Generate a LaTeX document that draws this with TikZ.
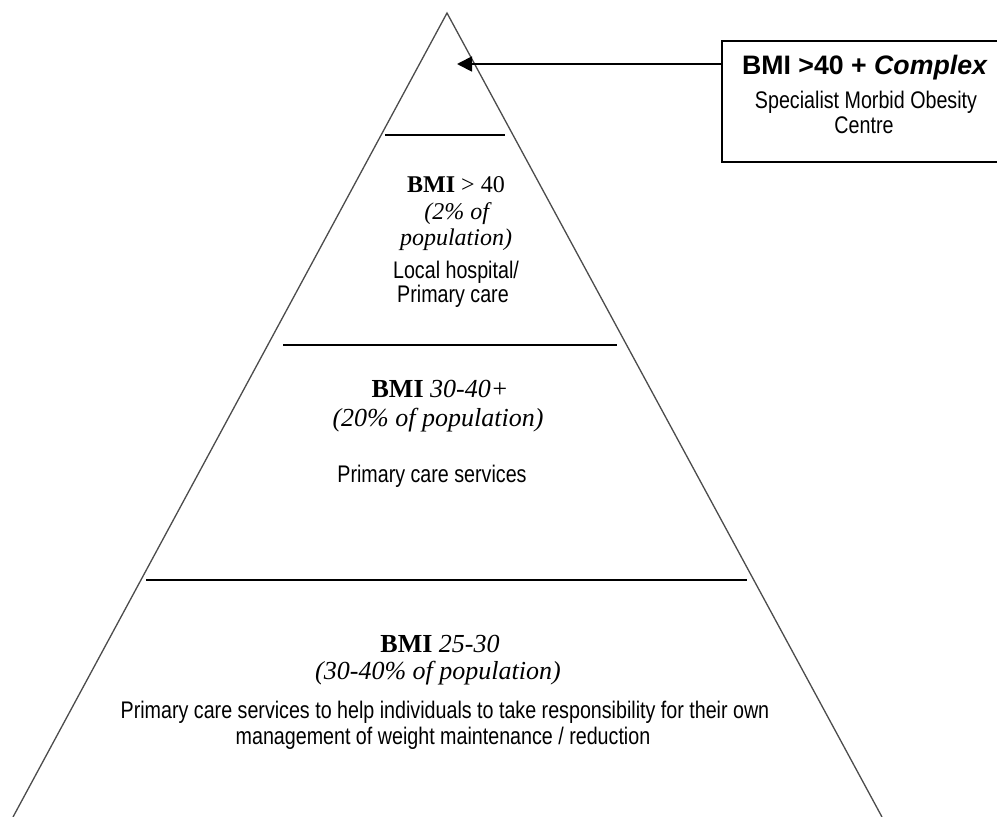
\documentclass[tikz,border=0pt]{standalone}
\usepackage{fontspec}
\setmainfont{Liberation Serif}
\newfontfamily\narrowf[FakeStretch=0.82]{Liberation Sans}
\newfontfamily\arialf{Liberation Sans}
\usetikzlibrary{arrows.meta}
\begin{document}
\begin{tikzpicture}[x=1pt,y=-1pt,
  side/.style={draw=black!70, line width=1.3pt},
  divider/.style={draw=black, line width=1.6pt},
  txt/.style={anchor=base, inner sep=0pt, outer sep=0pt},
  serifbig/.style={txt, font=\fontsize{26}{26}\selectfont},
  serifsmall/.style={txt, font=\fontsize{24}{24}\selectfont},
  narrowtxt/.style={txt, font=\narrowf\fontsize{24}{24}\selectfont},
  boxtitle/.style={txt, font=\arialf\bfseries\fontsize{26.7}{26.7}\selectfont},
  callout/.style={draw=black, line width=2.3pt, anchor=north west, minimum width=290pt, minimum height=121pt, inner sep=0pt},
  pointer/.style={draw=black, line width=1.8pt, -{Triangle[length=15pt,width=15pt]}}
]
\useasboundingbox (0,0) rectangle (997,817);
\fill[white] (0,0) rectangle (997,817);

% pyramid sides
\coordinate (apex) at (447,13);
\coordinate (bl) at (13,817);
\coordinate (br) at (882,817);
\draw[side] (bl) -- (apex) -- (br);

% dividers
\coordinate (d1l) at (385,135); \coordinate (d1r) at (505,135);
\coordinate (d2l) at (283,345); \coordinate (d2r) at (617,345);
\coordinate (d3l) at (146,580); \coordinate (d3r) at (747,580);
\draw[divider] (d1l) -- (d1r);
\draw[divider] (d2l) -- (d2r);
\draw[divider] (d3l) -- (d3r);

% callout box
\begin{scope}
\clip (0,0) rectangle (997,817);
\node[callout] (box) at (721,40) {};
\end{scope}
\node[boxtitle] (bt) at (865,74) {BMI >40 + \textit{Complex}};
\node[narrowtxt] (bs1) at (866,108) {Specialist Morbid Obesity};
\node[narrowtxt] (bs2) at (864,133) {Centre};
\coordinate (tip) at (457,64);
\draw[pointer] (box.west |- tip) -- (tip);

% top tier
\node[serifsmall] (a1) at (456,192) {\textbf{BMI} > 40};
\node[serifsmall] (a2) at (458,219) {\textit{(2\% of}};
\node[serifsmall] (a3) at (456,245) {\textit{population)}};
\node[narrowtxt] (a4) at (456,278) {Local hospital/};
\node[narrowtxt] (a5) at (453,302) {Primary care};

% middle tier
\node[serifbig] (b1) at (440,397) {\textbf{BMI} \textit{30-40+}};
\node[serifbig] (b2) at (438,426) {\textit{(20\% of population)}};
\node[narrowtxt] (b3) at (432,482) {Primary care services};

% bottom tier
\node[serifbig] (c1) at (440,652) {\textbf{BMI} \textit{25-30}};
\node[serifbig] (c2) at (438,679) {\textit{(30-40\% of population)}};
\node[narrowtxt] (c3) at (445,718) {Primary care services to help individuals to take responsibility for their own};
\node[narrowtxt] (c4) at (443,744) {management of weight maintenance / reduction};
\end{tikzpicture}
\end{document}
